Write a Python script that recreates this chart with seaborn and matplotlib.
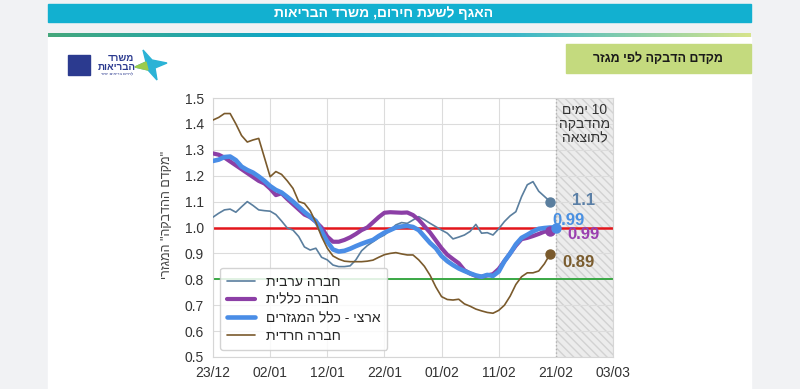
import numpy as np
import pandas as pd
import matplotlib
matplotlib.use("Agg")
import matplotlib.pyplot as plt
import matplotlib.dates as mdates
from matplotlib.patches import Rectangle, Polygon
from matplotlib.colors import LinearSegmentedColormap
import seaborn as sns


def heb(s):
    # matplotlib has no bidi support, so Hebrew is given in visual order
    return s[::-1]


# ----------------- Data -----------------
start = "2020-12-23"
arab = [1.04, 1.055, 1.068, 1.071, 1.059, 1.08, 1.10, 1.085, 1.068, 1.065,
        1.063, 1.05, 1.025, 0.998, 0.99, 0.965, 0.925, 0.913, 0.92, 0.885,
        0.875, 0.855, 0.849, 0.849, 0.852, 0.875, 0.91, 0.93, 0.945, 0.96,
        0.971, 0.99, 1.01, 1.019, 1.016, 1.029, 1.042, 1.03, 1.016, 1.003,
        0.99, 0.978, 0.956, 0.963, 0.971, 0.985, 1.012, 0.978, 0.98, 0.971,
        0.995, 1.023, 1.045, 1.061, 1.119, 1.165, 1.177, 1.14, 1.12, 1.10]
general = [1.286, 1.281, 1.27, 1.255, 1.24, 1.225, 1.21, 1.195, 1.18, 1.17,
           1.15, 1.125, 1.132, 1.11, 1.09, 1.07, 1.05, 1.04, 1.022, 1.0,
           0.965, 0.945, 0.945, 0.952, 0.962, 0.975, 0.99, 1.0, 1.02, 1.04,
           1.057, 1.059, 1.058, 1.057, 1.058, 1.048, 1.03, 1.005, 0.98, 0.95,
           0.92, 0.895, 0.878, 0.862, 0.835, 0.822, 0.813, 0.81, 0.815, 0.82,
           0.84, 0.87, 0.90, 0.93, 0.955, 0.96, 0.967, 0.975, 0.984, 0.985]
national = [1.257, 1.262, 1.272, 1.274, 1.26, 1.235, 1.222, 1.212, 1.197, 1.18,
            1.16, 1.145, 1.135, 1.118, 1.10, 1.08, 1.06, 1.042, 1.025, 0.985,
            0.945, 0.915, 0.907, 0.91, 0.918, 0.928, 0.937, 0.945, 0.952, 0.967,
            0.98, 0.99, 1.0, 1.004, 1.006, 1.002, 0.99, 0.965, 0.94, 0.92,
            0.89, 0.87, 0.855, 0.842, 0.832, 0.823, 0.815, 0.81, 0.817, 0.813,
            0.83, 0.87, 0.90, 0.935, 0.96, 0.972, 0.985, 0.995, 0.998, 1.0, 1.0]
haredi = [1.415, 1.425, 1.44, 1.44, 1.40, 1.355, 1.33, 1.338, 1.344, 1.27,
          1.196, 1.216, 1.205, 1.18, 1.151, 1.10, 1.093, 1.065, 1.02, 0.965,
          0.92, 0.89, 0.878, 0.87, 0.868, 0.868, 0.868, 0.87, 0.874, 0.885,
          0.895, 0.90, 0.903, 0.898, 0.894, 0.894, 0.875, 0.85, 0.815, 0.77,
          0.733, 0.722, 0.72, 0.723, 0.705, 0.696, 0.685, 0.678, 0.672, 0.669,
          0.68, 0.70, 0.735, 0.78, 0.81, 0.825, 0.825, 0.832, 0.86, 0.898]

series_names = ["חברה ערבית", "חברה כללית", "ארצי - כלל המגזרים", "חברה חרדית"]
series_values = [arab, general, national, haredi]
series_colors = ["#5a7e9e", "#8c3fa6", "#4a8de6", "#7a5a2c"]
series_widths = [1.2, 3.0, 3.3, 1.2]
end_labels = ["1.1", "0.99", "0.99", "0.89"]
label_colors = ["#5a7fa6", "#4a90e2", "#9a3fb0", "#7a5c2e"]
label_offsets = [(22, 1), (2, 11), (12, -7), (12, -9)]  # pixels from last point

tick_dates = pd.date_range("2020-12-23", "2021-03-03", freq="10D")
tick_labels = [d.strftime("%d/%m") for d in tick_dates]
lag_start, lag_end = pd.Timestamp("2021-02-21"), pd.Timestamp("2021-03-03")

# ----------------- Style -----------------
sns.set_style("whitegrid", {"grid.color": "#dcdcdc", "axes.edgecolor": "#d6d6d6"})
plt.rcParams["font.family"] = ["Liberation Sans", "DejaVu Sans"]

W, H = 800, 389


def box(x0, y0, x1, y1):
    # pixel box (top-left origin) -> figure fraction rect
    return [x0 / W, 1 - y1 / H, (x1 - x0) / W, (y1 - y0) / H]


fig = plt.figure(figsize=(8, 3.89), dpi=100, facecolor="#f1f2f4")

# slide background, banner, title box
r = box(48, 37, 751, 389)
fig.add_artist(Rectangle((r[0], r[1]), r[2], r[3], transform=fig.transFigure,
                         color="white", zorder=-2))
r = box(48, 4, 751, 22)
fig.add_artist(Rectangle((r[0], r[1]), r[2], r[3], transform=fig.transFigure,
                         color="#12b0d0", zorder=-1))
fig.text(384 / W, 1 - 13 / H, heb("האגף לשעת חירום, משרד הבריאות"), color="white",
         fontsize=10, fontweight="bold", ha="center", va="center")

ax_g = fig.add_axes(box(48, 33, 751, 37))
grad = LinearSegmentedColormap.from_list("g", ["#45a87c", "#10a6c6", "#3bb7c9", "#d6e48c"])
ax_g.imshow(np.linspace(0, 1, 256)[None, :], aspect="auto", cmap=grad)
ax_g.axis("off")

r = box(566, 44, 751, 73)
fig.add_artist(Rectangle((r[0], r[1]), r[2], r[3], transform=fig.transFigure,
                         color="#c4da7e", zorder=-1))
fig.text(658 / W, 1 - 59 / H, heb("מקדם הדבקה לפי מגזר"), color="#1a1a1a",
         fontsize=9, fontweight="bold", ha="center", va="center")

# logo (rough)
r = box(68, 55, 90, 75)
fig.add_artist(Rectangle((r[0], r[1]), r[2], r[3], transform=fig.transFigure,
                         color="#2b3a8f", zorder=-1))
fig.text(121 / W, 1 - 58 / H, heb("משרד"), color="#2b3a8f", fontsize=7,
         fontweight="bold", ha="center", va="center")
fig.text(117 / W, 1 - 67 / H, heb("הבריאות"), color="#2b3a8f", fontsize=7,
         fontweight="bold", ha="center", va="center")
fig.text(117 / W, 1 - 75 / H, heb("לחיים בריאים יותר"), color="#2b3a8f",
         fontsize=3, ha="center", va="center")
star = [(143, 50), (152, 60), (167, 63), (155, 68), (157, 80), (148, 70), (135, 67), (146, 62)]
fig.add_artist(Polygon([(x / W, 1 - y / H) for x, y in star], closed=True,
                       transform=fig.transFigure, color="#2bb3d6"))
tri = [(135, 67), (148, 70), (146, 62)]
fig.add_artist(Polygon([(x / W, 1 - y / H) for x, y in tri], closed=True,
                       transform=fig.transFigure, color="#9ccb4c"))

# ----------------- Chart -----------------
ax = fig.add_axes(box(213, 98, 613, 357))

ax.axvspan(lag_start, lag_end, facecolor="#ececec", edgecolor="#d2d2d2",
           hatch="\\\\\\\\", linewidth=0, zorder=0.5)
ax.axvline(lag_start, color="#b0b0b0", linestyle=":", linewidth=1, zorder=0.6)
ax.axhline(1.0, color="#e3161c", linewidth=1.8, zorder=1.5)
ax.axhline(0.8, color="#3aa845", linewidth=1.4, zorder=1.5)

for name, vals, col, lw, lab, lcol, off in zip(series_names, series_values, series_colors,
                                                series_widths, end_labels, label_colors,
                                                label_offsets):
    dates = pd.date_range(start, periods=len(vals), freq="D")
    df = pd.DataFrame({"date": dates, "R": vals})
    sns.lineplot(data=df, x="date", y="R", color=col, linewidth=lw,
                 label=heb(name), ax=ax, zorder=3)
    ax.plot(dates[-1], vals[-1], "o", color=col, markersize=6.5, zorder=4)
    ax.annotate(lab, xy=(mdates.date2num(dates[-1]), vals[-1]), xytext=off,
                textcoords="offset pixels", color=lcol, fontsize=12,
                fontweight="bold", ha="left", va="center", zorder=5)

# digits sit on the right of the Hebrew word, as in RTL reading
ax.text(mdates.date2num(pd.Timestamp("2021-02-26")), 1.40,
        heb("ימים") + " 10" + "\n" + heb("מהדבקה") + "\n" + heb("לתוצאה"),
        ha="center", va="center", fontsize=10, color="#333333", linespacing=1.0)

ax.set_xlim(pd.Timestamp(start), lag_end)
ax.set_ylim(0.5, 1.5)
ax.set_xticks(tick_dates)
ax.set_xticklabels(tick_labels)
ax.set_yticks(np.round(np.arange(0.5, 1.51, 0.1), 1))
ax.set_yticklabels([f"{v:.1f}" for v in np.arange(0.5, 1.51, 0.1)])
ax.tick_params(axis="both", labelsize=10, labelcolor="#333333", pad=3)
ax.set_xlabel("")
ax.set_ylabel(heb('"מקדם ההדבקה" המגזרי'), fontsize=9, color="#444444")
ax.yaxis.set_label_coords(-0.1, 0.55)
ax.grid(True, color="#dcdcdc", linewidth=0.8)

ax.legend(loc="lower left", fontsize=10, frameon=True, framealpha=0.85,
          edgecolor="#cccccc", labelspacing=0.3, handlelength=2.0, borderpad=0.5)

fig.savefig("out.png", dpi=100, facecolor=fig.get_facecolor())
